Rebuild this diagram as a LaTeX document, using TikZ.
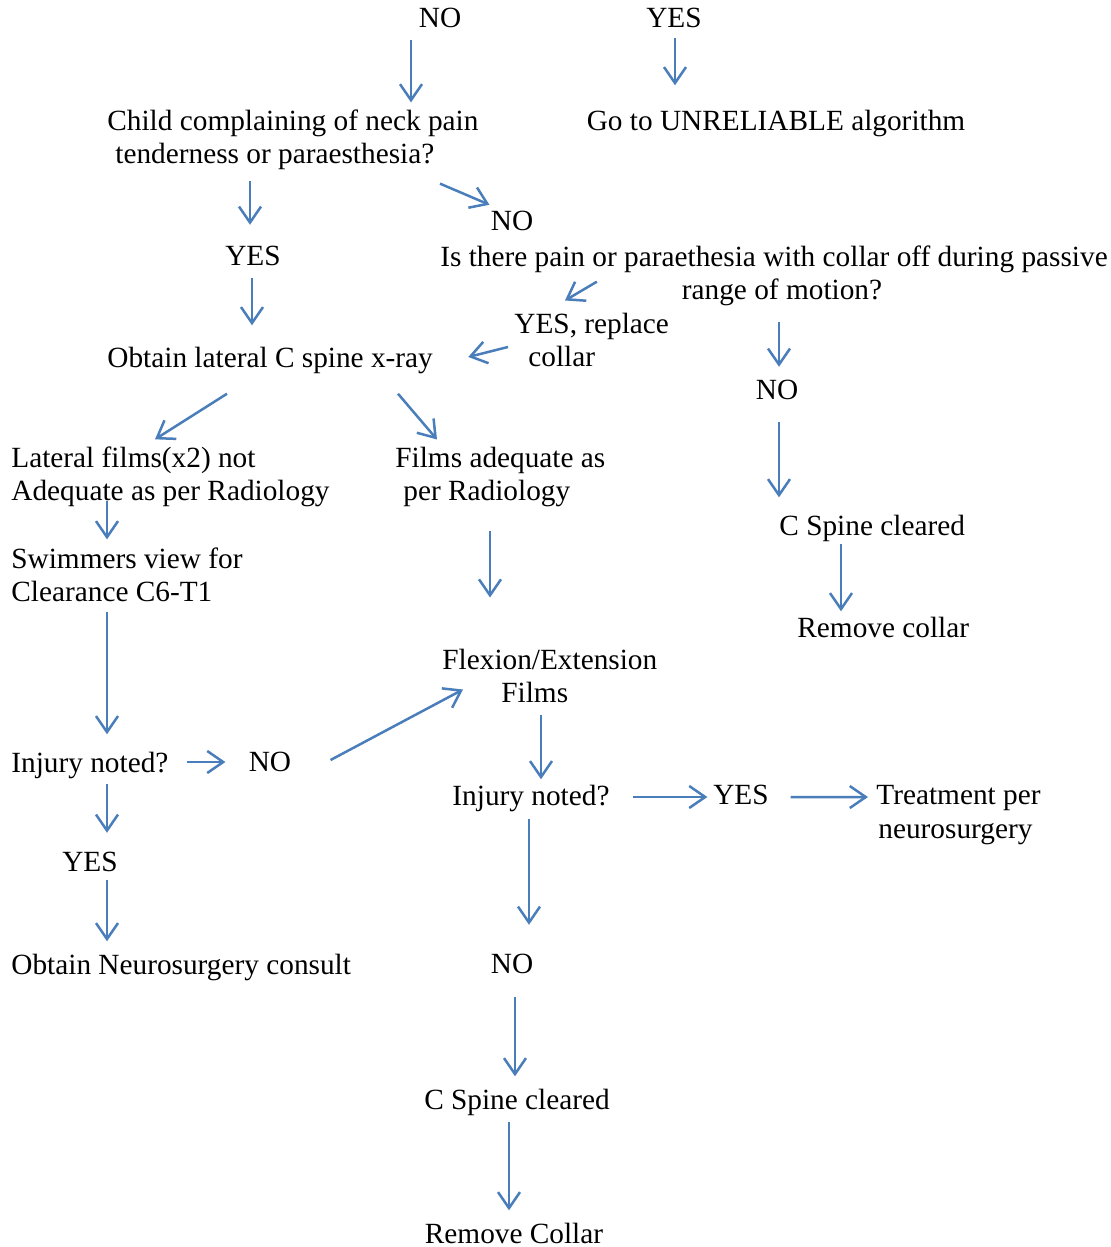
\documentclass[tikz,border=0pt]{standalone}
\usepackage{fontspec}
\setmainfont{Liberation Serif}
\usetikzlibrary{arrows.meta,calc}
\definecolor{arrblue}{HTML}{4A7EBB}
\begin{document}
\begin{tikzpicture}[x=0.5pt,y=-0.5pt,
  txt/.style={inner sep=0pt,font=\fontsize{14.65}{16.8}\selectfont},
  lft/.style={txt,anchor=west,align=left},
  arr/.style={draw=arrblue,line width=1.25pt,-{Straight Barb[length=8pt,width=11pt]}}]
  \useasboundingbox (0,0) rectangle (1110,1247);
  % top row
  \node[txt] (no1) at (440,18) {NO};
  \node[txt] (yes1) at (674,18) {YES};
  \node[lft] (child) at (107,140) {Child complaining of neck pain\\\hspace*{4pt}tenderness or paraesthesia?};
  \node[txt] (unrel) at (776,123) {Go to UNRELIABLE algorithm};
  \node[txt] (yes2) at (253,256) {YES};
  \node[txt] (no2) at (512,221) {NO};
  \node[txt,align=center] (pain) at (774,276) {Is there pain or paraethesia with collar off during passive\\\hspace*{8pt}range of motion?};
  \node[lft] (xray) at (107,360) {Obtain lateral C spine x-ray};
  \node[lft] (replace) at (514,340) {YES, replace\\\hspace*{7pt}collar};
  \node[txt] (no3) at (777,390) {NO};
  \node[lft] (clear1) at (779,528) {C Spine cleared};
  \node[lft] (rem1) at (797,627) {Remove collar};
  % films
  \node[lft] (notadq) at (11,477) {Lateral films(x2) not\\Adequate as per Radiology};
  \node[lft] (adq) at (395,477) {Films adequate as\\\hspace*{4pt}per Radiology};
  \node[lft] (swim) at (11,575) {Swimmers view for\\Clearance C6-T1};
  \node[lft] (flex) at (442,676) {Flexion/Extension\\\hspace*{29.5pt}Films};
  \node[lft] (inj1) at (11,765) {Injury noted?};
  \node[txt] (no4) at (270,762) {NO};
  \node[txt] (yes4) at (90,862) {YES};
  \node[lft] (neuro) at (11,967) {Obtain Neurosurgery consult};
  \node[txt] (inj2) at (531,798) {Injury noted?};
  \node[txt] (yes5) at (741,795) {YES};
  \node[lft] (treat) at (876,815) {Treatment per\\\hspace*{1pt}neurosurgery};
  \node[txt] (no5) at (512,964) {NO};
  \node[txt] (clear2) at (517,1102) {C Spine cleared};
  \node[txt] (rem2) at (514,1233) {Remove Collar};
  % arrows
  \draw[arr] ($(no1.south)+(-29,12)$) -- ($(child.north west)+(304,-7)$);
  \draw[arr] ($(yes1.south)+(1,10)$) -- ($(unrel.north)+(-101,-24)$);
  \draw[arr] ($(child.south west)+(143,10)$) -- ($(yes2.north)+(-3,-21)$);
  \draw[arr] ($(child.south west)+(333,13)$) -- ($(no2.north west)+(-1,-6)$);
  \draw[arr] ($(yes2.south)+(-1,12)$) -- ($(xray.north west)+(145,-21)$);
  \draw[arr] ($(pain.south west)+(157,-25)$) -- ($(replace.north west)+(51,-12)$);
  \draw[arr] ($(replace.west)+(-6,7)$) -- ($(xray.east)+(35,-3)$);
  \draw[arr] ($(pain.south)+(5,15)$) -- ($(no3.north)+(2,-13)$);
  \draw[arr] ($(no3.south)+(2,22)$) -- ($(clear1.north west)+(0,-17)$);
  \draw[arr] ($(clear1.south west)+(62,2)$) -- ($(rem1.north west)+(44,-5)$);
  \draw[arr] ($(xray.south west)+(120,20)$) -- ($(notadq.north west)+(144,-7)$);
  \draw[arr] ($(xray.south west)+(291,20)$) -- ($(adq.north west)+(42,-7)$);
  \draw[arr] ($(notadq.south west)+(96,-7)$) -- ($(swim.north west)+(96,-8)$);
  \draw[arr] ($(adq.south west)+(95,23)$) -- ($(flex.north west)+(48,-51)$);
  \draw[arr] ($(swim.south west)+(96,9)$) -- ($(inj1.north west)+(96,-17)$);
  \draw[arr] ($(inj1.east)+(18,-3)$) -- ($(no4.west)+(-23,0)$);
  \draw[arr] ($(no4.east)+(39,-2)$) -- ($(flex.south west)+(21,-14)$);
  \draw[arr] ($(inj1.south west)+(96,5)$) -- ($(yes4.north)+(17,-19)$);
  \draw[arr] ($(yes4.south)+(17,8)$) -- ($(neuro.north west)+(96,-12)$);
  \draw[arr] ($(flex.south west)+(99,11)$) -- ($(inj2.north)+(10,-5)$);
  \draw[arr] ($(inj2.east)+(23.5,-1)$) -- ($(yes5.west)+(-5.5,2)$);
  \draw[arr] ($(yes5.east)+(21.5,2)$) -- ($(treat.north west)+(-8,12)$);
  \draw[arr] ($(inj2.south)+(-2,7)$) -- ($(no5.north)+(17,-29)$);
  \draw[arr] ($(no5.south)+(3,23)$) -- ($(clear2.north)+(-2,-12)$);
  \draw[arr] ($(clear2.south)+(-8,6)$) -- ($(rem2.north)+(-5,-12)$);
\end{tikzpicture}
\end{document}
